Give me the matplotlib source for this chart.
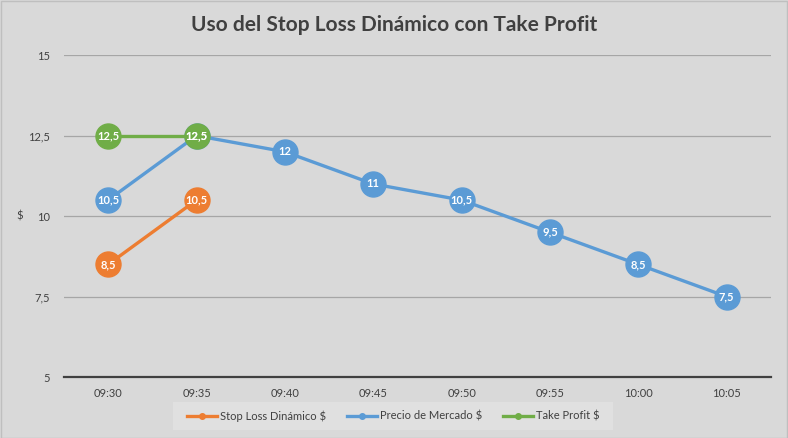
import matplotlib
matplotlib.use("Agg")
import matplotlib.pyplot as plt
import numpy as np

plt.rcParams['font.family'] = ['Lato', 'DejaVu Sans']

# --- Data ---
times = ["09:30", "09:35", "09:40", "09:45", "09:50", "09:55", "10:00", "10:05"]
stop_loss = [8.5, 10.5]
precio = [10.5, 12.5, 12, 11, 10.5, 9.5, 8.5, 7.5]
take_profit = [12.5, 12.5]

series = [
    ("Stop Loss Dinámico $", stop_loss, "#ED7D31"),
    ("Precio de Mercado $", precio, "#5B9BD5"),
    ("Take Profit $", take_profit, "#70AD47"),
]

bg = "#d9d9d9"
fig = plt.figure(figsize=(7.88, 4.38), dpi=100, facecolor=bg)
ax = fig.add_axes([0.0812, 0.139, 0.897, 0.735], facecolor=bg)

x = np.arange(len(times))

# draw order: blue under green so take profit marker sits on top at 09:35
order = [1, 0, 2]
for i in order:
    name, vals, col = series[i]
    xs = x[:len(vals)]
    ax.plot(xs, vals, color=col, lw=2.4, marker="o", ms=18,
            mec=col, mfc=col, zorder=3 + i)
    for xi, v in zip(xs, vals):
        lbl = ("%g" % v).replace(".", ",")
        ax.text(xi, v, lbl, color="white", ha="center", va="center",
                fontsize=8, fontweight="bold", zorder=10 + i)

ax.set_xlim(-0.5, len(times) - 0.5)
ax.set_ylim(5, 15)
ax.set_yticks([5, 7.5, 10, 12.5, 15])
ax.set_yticklabels(["5", "7,5", "10", "12,5", "15"])
ax.set_xticks(x)
ax.set_xticklabels(times)
ax.tick_params(axis="both", length=0, labelsize=8, colors="#404040")
ax.tick_params(axis="y", pad=10)
ax.tick_params(axis="x", pad=8)
ax.grid(axis="y", color="#a6a6a6", lw=0.9)
ax.set_axisbelow(True)
for s in ["top", "right", "left"]:
    ax.spines[s].set_visible(False)
ax.spines["bottom"].set_color("#404040")
ax.spines["bottom"].set_linewidth(1.6)

ax.set_ylabel("$", rotation=0, fontsize=8, color="#404040", labelpad=6, va="center")

fig.text(0.5, 0.943, "Uso del Stop Loss Dinámico con Take Profit", ha="center",
         va="center", fontsize=15, fontweight="bold", color="#404040")

# legend box (Excel style, lighter panel)
fig.patches.append(plt.Rectangle((173 / 788, 1 - 430 / 438), 440 / 788, 28 / 438,
                                 transform=fig.transFigure, facecolor="#e0e0e0",
                                 edgecolor="none", zorder=0))
leg_handles = []
for name, vals, col in series:
    h, = ax.plot([], [], color=col, lw=2.4, marker="o", ms=4)
    leg_handles.append(h)
leg = fig.legend(leg_handles, [s[0] for s in series], loc="center",
                 bbox_to_anchor=(393 / 788, 1 - 416 / 438), ncol=3, frameon=False,
                 fontsize=8, handlelength=2.7, columnspacing=1.9, handletextpad=0.25)
for t in leg.get_texts():
    t.set_color("#404040")

fig.patches.append(plt.Rectangle((0.001, 0.001), 0.998, 0.997, transform=fig.transFigure,
                                 fill=False, edgecolor="#bfbfbf", lw=1))

fig.savefig("out.png", dpi=100, facecolor=bg)
